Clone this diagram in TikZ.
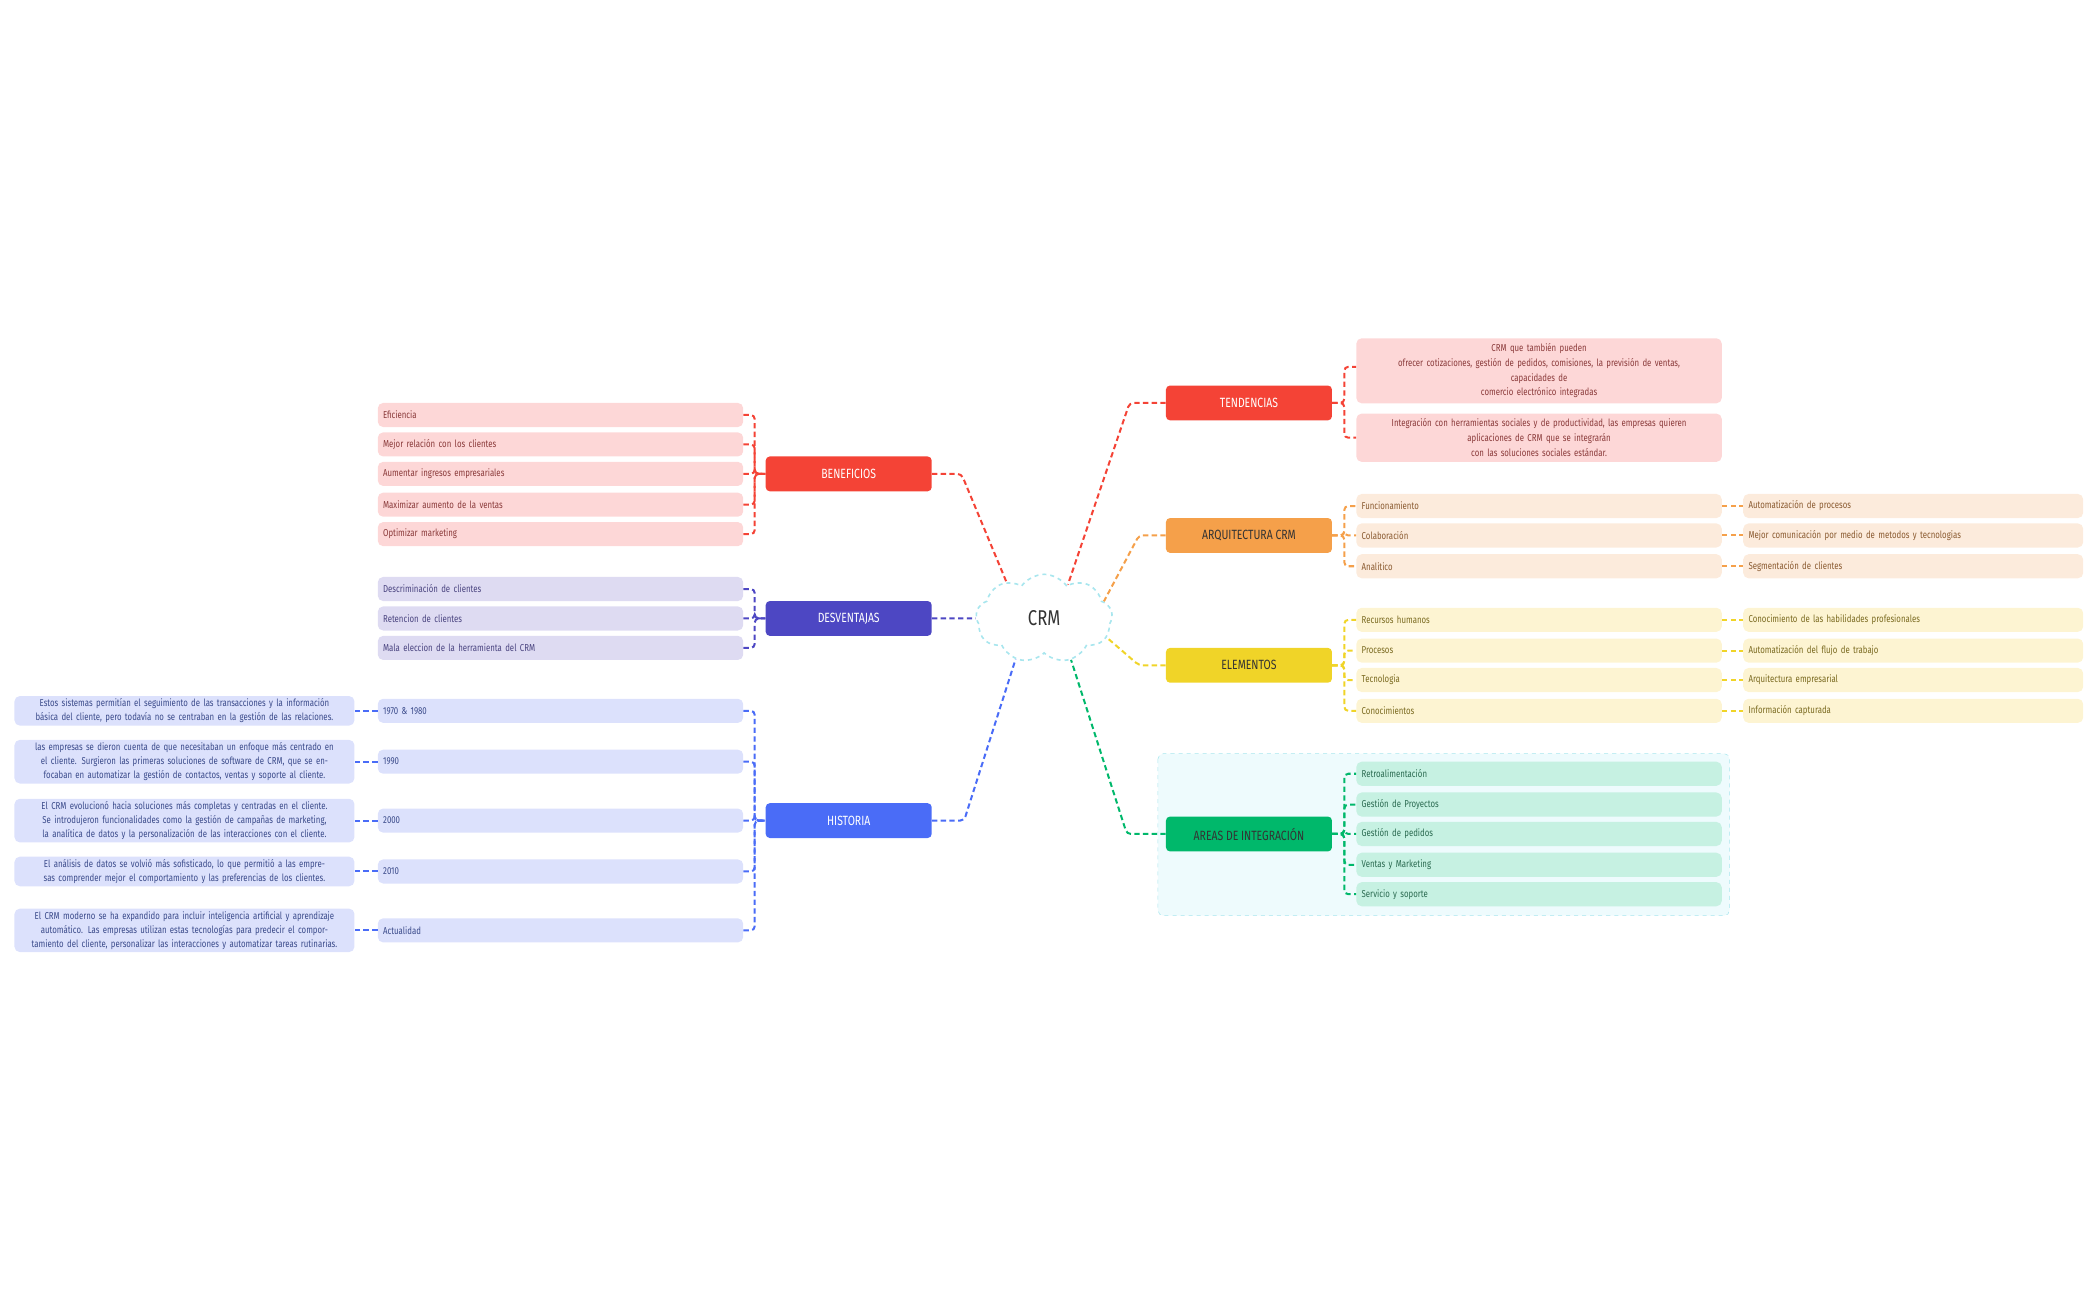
\documentclass[tikz,border=0pt]{standalone}
\usepackage{fontspec}
\setmainfont[FakeStretch=0.78]{Fira Sans}
\usetikzlibrary{shapes.symbols,calc}
\definecolor{cR}{HTML}{F44336}\definecolor{lR}{HTML}{FDD7D7}\definecolor{tR}{HTML}{8A3A3A}
\definecolor{cP}{HTML}{4D47C3}\definecolor{lP}{HTML}{DEDBF2}\definecolor{tP}{HTML}{4A4480}
\definecolor{cB}{HTML}{4A6CF7}\definecolor{lB}{HTML}{DCE1FC}\definecolor{tB}{HTML}{3A4A8A}
\definecolor{cO}{HTML}{F5A04A}\definecolor{lO}{HTML}{FCEBDC}\definecolor{tO}{HTML}{8A5A30}
\definecolor{cY}{HTML}{F0D428}\definecolor{lY}{HTML}{FDF4D2}\definecolor{tY}{HTML}{7A6A20}
\definecolor{cG}{HTML}{00B86B}\definecolor{lG}{HTML}{C6F1E2}\definecolor{tG}{HTML}{2A6A50}
\definecolor{cloudc}{HTML}{A8E6EE}\definecolor{areabg}{HTML}{EEFBFD}
\tikzset{
 mainbox/.style={rounded corners=3pt,fill=#1,minimum width=124pt,minimum height=26pt,inner sep=0pt,font=\fontsize{10}{11}\selectfont,text=white},
 leaf/.style 2 args={rounded corners=4pt,fill=#1,text=#2,anchor=west,minimum height=18pt,inner xsep=4pt,inner ysep=1pt,text width=265pt,align=left,font=\fontsize{7.5}{9}\selectfont},
 sub/.style 2 args={leaf={#1}{#2},text width=246pt},
 desc/.style={rounded corners=4pt,fill=lB,text=tB,anchor=east,inner xsep=3pt,inner ysep=2pt,text width=248pt,align=center,font=\fontsize{7.5}{10.5}\selectfont},
 con/.style={draw=#1,line width=1.5pt,dash pattern=on 4pt off 2.5pt,rounded corners=3pt},
}
\begin{document}
\begin{tikzpicture}[x=1pt,y=-1pt]
\useasboundingbox (0,0) rectangle (1568,971);
% area background
\draw[cloudc,fill=areabg,dashed,rounded corners=4pt] (865,563) rectangle (1292,684);
% center
\node[cloud,cloud puffs=9,cloud puff arc=110,aspect=1.6,draw=cloudc,fill=white,dashed,line width=1.2pt,minimum width=102pt,minimum height=66pt,font=\fontsize{16}{18}\selectfont,text=black!80] (crm) at (780,462) {CRM};
% main nodes
\node[mainbox=cR] (ben) at (634,354) {BENEFICIOS};
\node[mainbox=cP] (des) at (634,462) {DESVENTAJAS};
\node[mainbox=cB] (his) at (634,613) {HISTORIA};
\node[mainbox=cR] (ten) at (933,301) {TENDENCIAS};
\node[mainbox=cO,text=black!80] (arq) at (933,400) {ARQUITECTURA CRM};
\node[mainbox=cY,text=black!80] (ele) at (933,497) {ELEMENTOS};
\node[mainbox=cG,text=black!80] (are) at (933,623) {AREAS DE INTEGRACIÓN};
% center links
\draw[con=cR] (ben.east) -- ++(22,0) -- (crm.136);
\draw[con=cP] (des.east) -- (crm.180);
\draw[con=cB] (his.east) -- ++(24,0) -- (crm.235);
\draw[con=cR] (ten.west) -- ++(-27,0) -- (crm.55);
\draw[con=cO] (arq.west) -- ++(-20,0) -- (crm.16);
\draw[con=cY] (ele.west) -- ++(-20,0) -- (crm.-17);
\draw[con=cG] (are.west) -- ++(-29,0) -- (crm.-57);
% beneficios
\foreach \n/\y/\t in {b1/310/Eficiencia,b2/332/Mejor relación con los clientes,b3/354/Aumentar ingresos empresariales,b4/377/Maximizar aumento de la ventas,b5/399/Optimizar marketing}{
 \node[leaf={lR}{tR}] (\n) at (282,\y) {\t};
 \draw[con=cR] (\n.east) -| ($(ben.west)+(-8,0)$) -- (ben.west);}
\foreach \n/\y/\t in {d1/440/Descriminación de clientes,d2/462/Retencion de clientes,d3/484/Mala eleccion de la herramienta del CRM}{
 \node[leaf={lP}{tP}] (\n) at (282,\y) {\t};
 \draw[con=cP] (\n.east) -| ($(des.west)+(-8,0)$) -- (des.west);}
% historia
\foreach \n/\y/\t/\d in {
 h1/531/1970 \& 1980/{Estos sistemas permitían el seguimiento de las transacciones y la información básica del cliente, pero todavía no se centraban en la gestión de las relaciones.},
 h2/569/1990/{las empresas se dieron cuenta de que necesitaban un enfoque más centrado en el cliente. Surgieron las primeras soluciones de software de CRM, que se enfocaban en automatizar la gestión de contactos, ventas y soporte al cliente.},
 h3/613/2000/{El CRM evolucionó hacia soluciones más completas y centradas en el cliente. Se introdujeron funcionalidades como la gestión de campañas de marketing, la analítica de datos y la personalización de las interacciones con el cliente.},
 h4/651/2010/{El análisis de datos se volvió más sofisticado, lo que permitió a las empresas comprender mejor el comportamiento y las preferencias de los clientes.},
 h5/695/Actualidad/{El CRM moderno se ha expandido para incluir inteligencia artificial y aprendizaje automático. Las empresas utilizan estas tecnologías para predecir el comportamiento del cliente, personalizar las interacciones y automatizar tareas rutinarias.}}{
 \node[leaf={lB}{tB}] (\n) at (282,\y) {\t};
 \node[desc] (\n d) at (265,\y) {\d};
 \draw[con=cB] (\n.east) -| ($(his.west)+(-8,0)$) -- (his.west);
 \draw[con=cB] (\n.west) -- (\n d.east);}
% tendencias
\node[leaf={lR}{tR},align=center,inner ysep=4pt,font=\fontsize{7.5}{11}\selectfont] (t1) at (1013,277) {CRM que también pueden\\ofrecer cotizaciones, gestión de pedidos, comisiones, la previsión de ventas,\\capacidades de\\comercio electrónico integradas};
\node[leaf={lR}{tR},align=center,inner ysep=4pt,font=\fontsize{7.5}{11}\selectfont] (t2) at (1013,327) {Integración con herramientas sociales y de productividad, las empresas quieren\\aplicaciones de CRM que se integrarán\\con las soluciones sociales estándar.};
\draw[con=cR] (ten.east) -- ++(9,0) |- ($(t1.west)+(0,-3)$);
\draw[con=cR] (ten.east) -- ++(9,0) |- (t2.west);
% arquitectura
\foreach \n/\y/\t/\s in {a1/378/Funcionamiento/Automatización de procesos,a2/400/Colaboración/Mejor comunicación por medio de metodos y tecnologias,a3/423/Analitico/Segmentación de clientes}{
 \node[leaf={lO}{tO}] (\n) at (1013,\y) {\t};
 \node[sub={lO}{tO}] (\n s) at (1302,\y) {\s};
 \draw[con=cO] (arq.east) -- ++(9,0) |- (\n.west);
 \draw[con=cO] (\n.east) -- (\n s.west);}
% elementos
\foreach \n/\y/\t/\s in {e1/463/Recursos humanos/Conocimiento de las habilidades profesionales,e2/486/Procesos/Automatización del flujo de trabajo,e3/508/Tecnologia/Arquitectura empresarial,e4/531/Conocimientos/Información capturada}{
 \node[leaf={lY}{tY}] (\n) at (1013,\y) {\t};
 \node[sub={lY}{tY}] (\n s) at (1302,\y) {\s};
 \draw[con=cY] (ele.east) -- ++(9,0) |- (\n.west);
 \draw[con=cY] (\n.east) -- (\n s.west);}
% areas
\foreach \n/\y/\t in {g1/578/Retroalimentación,g2/601/Gestión de Proyectos,g3/623/Gestión de pedidos,g4/646/Ventas y Marketing,g5/668/Servicio y soporte}{
 \node[leaf={lG}{tG}] (\n) at (1013,\y) {\t};
 \draw[con=cG] (are.east) -- ++(9,0) |- (\n.west);}
\end{tikzpicture}
\end{document}
